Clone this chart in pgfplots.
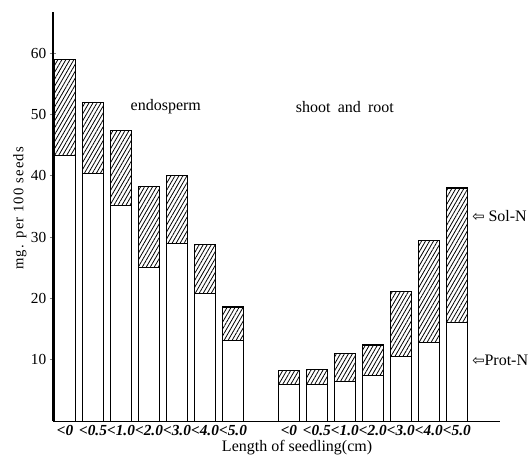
\documentclass[border=0pt]{standalone}
\usepackage{fontspec}
\setmainfont{Liberation Serif}
\newfontfamily\symfont{DejaVu Sans}
\usepackage{pgfplots}
\usepackage{pgfplotstable}
\pgfplotsset{compat=1.18}
\usetikzlibrary{patterns.meta,calc}

% Nitrogen per 100 seeds: protein-N (plain) and soluble-N (hatched)
% endosperm at x = 0..6, shoot and root at x = 8..14
\pgfplotstableread{
x prot sol
0 43.3 15.7
1 40.3 11.7
2 35.2 12.2
3 25.0 13.2
4 29.0 11.1
5 20.8 8.0
6 13.2 5.4
8 6.0 2.2
9 6.0 2.4
10 6.4 4.6
11 7.5 4.9
12 10.5 10.6
13 12.8 16.7
14 16.0 22.0
}\seedtab

\begin{document}
\begin{tikzpicture}
\begin{axis}[
  scale only axis, width=335.25pt, height=307pt,
  xmin=-0.43, xmax=15.54, ymin=0, ymax=66.74,
  axis lines=left, axis line style={-, line width=0.8pt},
  ybar stacked, bar width=0.76,
  xtick={0,1,2,3,4,5,6,8,9,10,11,12,13,14},
  xticklabels={<0,<0.5,<1.0,<2.0,<3.0,<4.0,<5.0,<0,<0.5,<1.0,<2.0,<3.0,<4.0,<5.0},
  x tick style={draw=none},
  ytick={10,20,...,60},
  y tick style={line width=0.6pt}, tick align=center, major tick length=5pt,
  tick label style={font=\fontsize{11.5}{12}\selectfont},
  yticklabel style={xshift=1pt},
  xticklabel style={font=\fontsize{11.5}{12}\selectfont\bfseries\itshape, yshift=3pt, inner xsep=0pt},
  /pgf/number format/assume math mode=true,
  clip=false,
]
\addplot[fill=white, draw=black, line width=0.8pt] table[x=x,y=prot]{\seedtab};
\addplot[draw=black, line width=0.8pt,
  pattern={Lines[angle=60,distance=2.6pt,line width=0.6pt]}] table[x=x,y=sol]{\seedtab};

\node[font=\fontsize{12}{13}\selectfont] at (axis cs:3.6,51.2) {endosperm};
\node[font=\fontsize{12}{13}\selectfont] at (axis cs:10.0,51.2) {shoot\hspace{0.45em}and\hspace{0.45em}root};
\node[anchor=west, inner sep=0pt, font=\fontsize{12}{13}\selectfont] at (axis cs:14.54,33.4) {{\symfont\fontsize{11}{12}\selectfont ⇦} Sol-N};
\node[anchor=west, inner sep=0pt, font=\fontsize{12}{13}\selectfont] at (axis cs:14.54,9.95) {{\symfont\fontsize{11}{12}\selectfont ⇦}Prot-N};
\node[rotate=90, font=\fontsize{11}{12}\selectfont\addfontfeature{LetterSpace=8}] at (axis cs:-1.61,34.7) {mg. per 100 seeds};
\node[font=\fontsize{12}{13}\selectfont] at (axis cs:8.29,-4.35) {Length of seedling(cm)};
\coordinate (bl) at (rel axis cs:0,0);
\coordinate (tr) at (rel axis cs:1,1);
\end{axis}
\pgfresetboundingbox
\path[use as bounding box] ($(bl)+(-39.75pt,-27.75pt)$) rectangle ($(tr)+(22.5pt,8.8pt)$);
\end{tikzpicture}
\end{document}
